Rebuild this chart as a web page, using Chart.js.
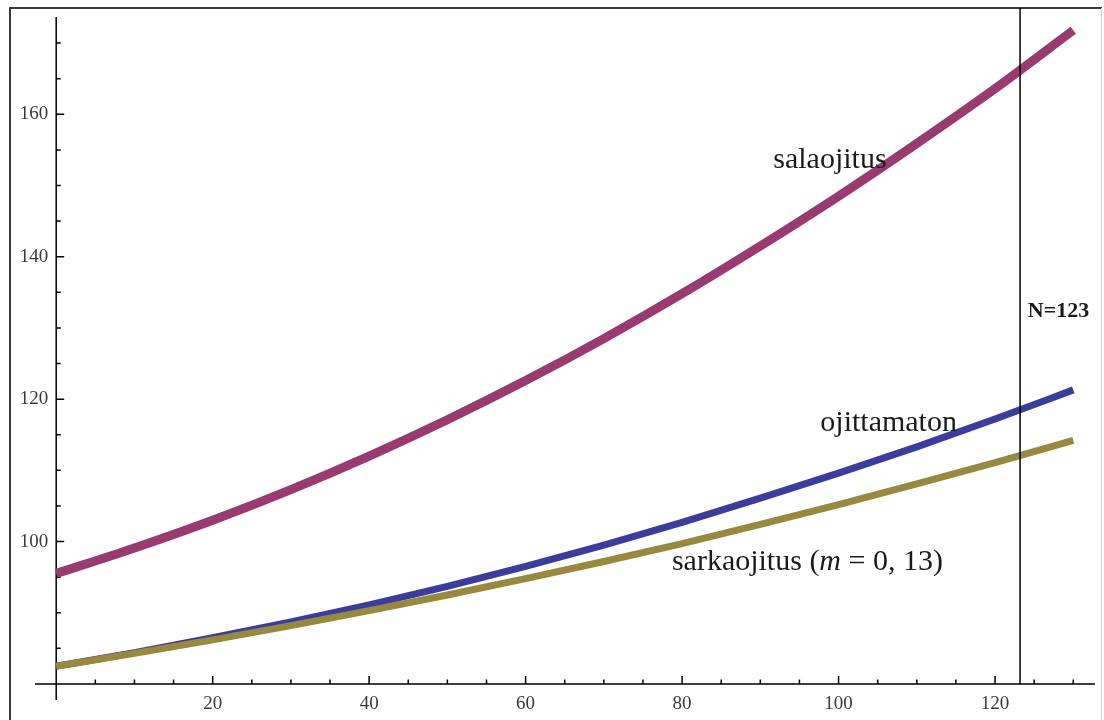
<!DOCTYPE html>
<html>
<head>
<meta charset="utf-8">
<script src="https://cdn.jsdelivr.net/npm/chart.js@4.4.1/dist/chart.umd.min.js"></script>
<style>
  body { margin: 0; background: #fff; }
  #wrap { width: 1104px; height: 720px; position: relative; }
</style>
</head>
<body>
<div id="wrap"><canvas id="chart"></canvas></div>
<script>
// values
const xValues     = [0, 10, 20, 30, 40, 50, 60, 70, 80, 90, 100, 110, 120, 130];
const salaojitus  = [95.5, 99.1, 103.0, 107.3, 112.0, 117.1, 122.6, 128.5, 134.8, 141.5, 148.5, 155.9, 163.6, 171.8];
const ojittamaton = [82.5, 84.4, 86.5, 88.7, 91.1, 93.7, 96.5, 99.5, 102.7, 106.1, 109.6, 113.3, 117.2, 121.3];
const sarkaojitus = [82.5, 84.3, 86.2, 88.2, 90.3, 92.5, 94.8, 97.2, 99.7, 102.4, 105.2, 108.1, 111.1, 114.2];

const xTickLabels = [20, 40, 60, 80, 100, 120];
const yTickLabels = [100, 120, 140, 160];
const nLine = 123.2;

const toPoints = ys => ys.map((y, i) => ({x: xValues[i], y: y}));

const serif = '"Liberation Serif", "Times New Roman", serif';

const mathematicaAxes = {
  id: 'mathematicaAxes',
  beforeDatasetsDraw(chart) {
    const {ctx, chartArea, scales: {x, y}} = chart;
    const x0 = x.getPixelForValue(0);
    const y0 = y.getPixelForValue(80);
    ctx.save();

    // outer frame
    ctx.strokeStyle = '#3a3a3a';
    ctx.lineWidth = 2;
    ctx.beginPath();
    ctx.moveTo(10, 720); ctx.lineTo(10, 8); ctx.lineTo(1102, 8);
    ctx.stroke();
    ctx.strokeStyle = '#d4d4d4';
    ctx.lineWidth = 1;
    ctx.beginPath();
    ctx.moveTo(1101.5, 8); ctx.lineTo(1101.5, 720);
    ctx.stroke();

    // axes
    ctx.strokeStyle = '#000';
    ctx.lineWidth = 1.5;
    ctx.beginPath();
    ctx.moveTo(chartArea.left, y0); ctx.lineTo(chartArea.right, y0);
    ctx.moveTo(x0, chartArea.top); ctx.lineTo(x0, chartArea.bottom);
    ctx.stroke();

    // ticks, pointing inward
    ctx.beginPath();
    for (let v = 5; v <= 130; v += 5) {
      const px = x.getPixelForValue(v);
      const len = xTickLabels.includes(v) ? 8 : 4.5;
      ctx.moveTo(px, y0); ctx.lineTo(px, y0 - len);
    }
    for (let v = 85; v <= 170; v += 5) {
      const py = y.getPixelForValue(v);
      const len = yTickLabels.includes(v) ? 8 : 4.5;
      ctx.moveTo(x0, py); ctx.lineTo(x0 + len, py);
    }
    ctx.stroke();

    // tick labels
    ctx.fillStyle = '#3a3a3a';
    ctx.font = '19px ' + serif;
    ctx.textAlign = 'center';
    ctx.textBaseline = 'middle';
    xTickLabels.forEach(v => ctx.fillText(String(v), x.getPixelForValue(v), y0 + 20));
    ctx.textAlign = 'right';
    yTickLabels.forEach(v => ctx.fillText(String(v), x0 - 8, y.getPixelForValue(v)));
    ctx.restore();
  },
  afterDatasetsDraw(chart) {
    const {ctx, scales: {x, y}} = chart;
    ctx.save();

    // N marker line
    const nx = x.getPixelForValue(nLine);
    ctx.strokeStyle = '#000';
    ctx.lineWidth = 1.5;
    ctx.beginPath();
    ctx.moveTo(nx, 8); ctx.lineTo(nx, y.getPixelForValue(80));
    ctx.stroke();

    ctx.fillStyle = '#1a1a1a';
    ctx.textBaseline = 'alphabetic';
    ctx.font = 'bold 22px ' + serif;
    ctx.textAlign = 'left';
    ctx.fillText('N=123', x.getPixelForValue(124.2), y.getPixelForValue(131.5));

    ctx.font = '30px ' + serif;
    ctx.textAlign = 'center';
    ctx.fillText('salaojitus', x.getPixelForValue(98.9), y.getPixelForValue(152.4));
    ctx.fillText('ojittamaton', x.getPixelForValue(106.4), y.getPixelForValue(115.5));

    // sarkaojitus (m = 0, 13) with italic m
    ctx.textAlign = 'left';
    let tx = x.getPixelForValue(78.7);
    const ty = y.getPixelForValue(96.0);
    const parts = [['sarkaojitus (', ''], ['m', 'italic '], [' = 0, 13)', '']];
    parts.forEach(([t, style]) => {
      ctx.font = style + '30px ' + serif;
      ctx.fillText(t, tx, ty);
      tx += ctx.measureText(t).width;
    });
    ctx.restore();
  }
};

new Chart(document.getElementById('chart'), {
  type: 'line',
  data: {
    datasets: [
      {label: 'sarkaojitus', data: toPoints(sarkaojitus), borderColor: '#978a3e', borderWidth: 7},
      {label: 'ojittamaton', data: toPoints(ojittamaton), borderColor: '#3c3c9c', borderWidth: 7},
      {label: 'salaojitus', data: toPoints(salaojitus), borderColor: '#9a3b6f', borderWidth: 9}
    ]
  },
  options: {
    responsive: true,
    maintainAspectRatio: false,
    animation: false,
    events: [],
    layout: {padding: {left: 35, right: 9, top: 17, bottom: 20}},
    elements: {
      point: {radius: 0},
      line: {cubicInterpolationMode: 'monotone', fill: false, borderCapStyle: 'butt'}
    },
    plugins: {legend: {display: false}, tooltip: {enabled: false}},
    scales: {
      x: {type: 'linear', min: -2.71, max: 132.78, display: false},
      y: {type: 'linear', min: 77.75, max: 173.66, display: false}
    }
  },
  plugins: [mathematicaAxes]
});
</script>
</body>
</html>
